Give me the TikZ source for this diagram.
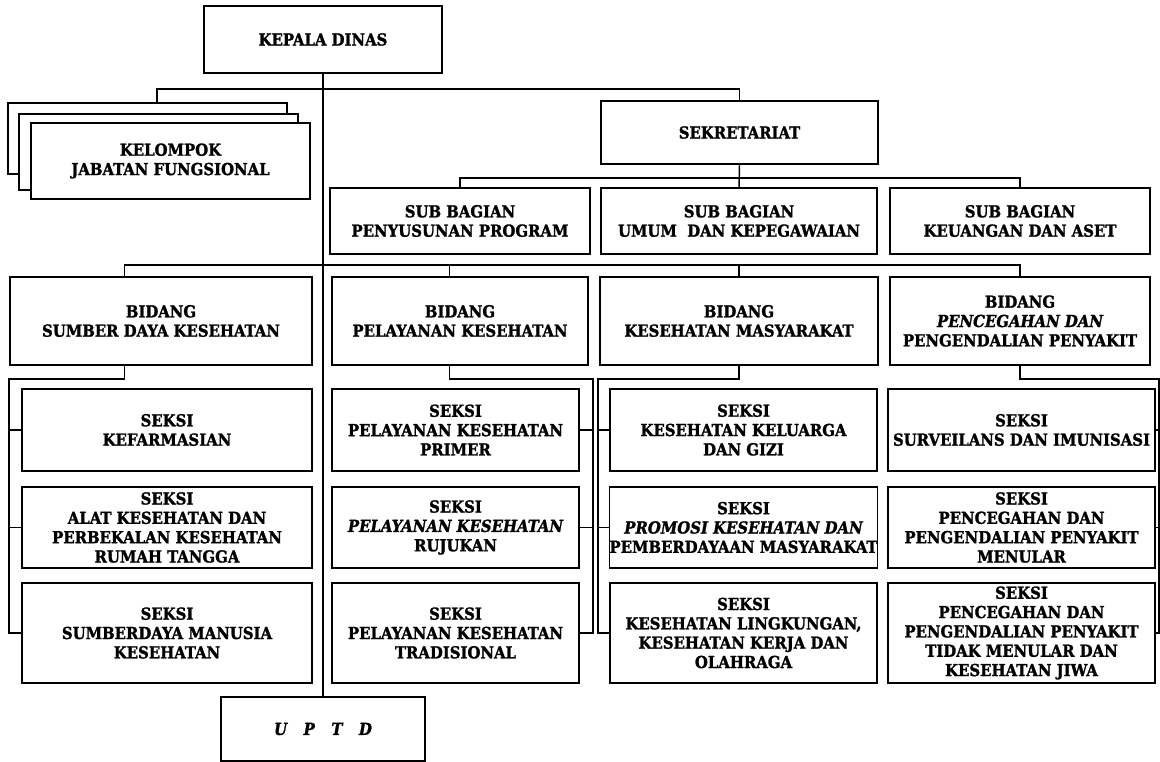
\documentclass[tikz,border=0pt]{standalone}
\usepackage{fontspec}
\setmainfont{DejaVu Serif Condensed}[BoldFeatures={FakeBold=1.5},BoldItalicFeatures={FakeBold=1.5}]
\usepackage{tikz}
\usetikzlibrary{calc}
\usetikzlibrary{positioning}

\begin{document}
\begin{tikzpicture}[x=0.75pt,y=-0.75pt,
    box/.style={draw,line width=1.2pt,fill=white,align=center,inner sep=0pt,
      font=\bfseries\fontsize{12.4}{14.5}\selectfont},
    boxsize/.style 2 args={minimum width=#1*0.75pt,minimum height=#2*0.75pt},
    link/.style={line width=1.1pt}]
  \useasboundingbox (0,0) rectangle (1160,762);

  \node[box,boxsize={238}{67}] (kd) at (323,39.5) {KEPALA DINAS};
  \node[box,boxsize={279}{71}] (kjf1) at (147.5,138.5) {};
  \node[box,boxsize={279}{76}] (kjf2) at (158.5,152) {};
  \node[box,boxsize={279}{76}] (kjf3) at (170.5,161) {KELOMPOK\\JABATAN FUNGSIONAL};
  \node[box,boxsize={277}{63}] (sek) at (739.5,132.5) {SEKRETARIAT};

  \node[box,boxsize={260}{66}] (sb1) at (460,221) {SUB BAGIAN\\PENYUSUNAN PROGRAM};
  \node[box,boxsize={276}{66}] (sb2) at (739,221) {SUB BAGIAN\\UMUM\ \ DAN KEPEGAWAIAN};
  \node[box,boxsize={260}{66}] (sb3) at (1020,221) {SUB BAGIAN\\KEUANGAN DAN ASET};

  \node[box,boxsize={302}{88}] (bd1) at (161,321) {BIDANG\\SUMBER DAYA KESEHATAN};
  \node[box,boxsize={256}{88}] (bd2) at (460,321) {BIDANG\\PELAYANAN KESEHATAN};
  \node[box,boxsize={278}{88}] (bd3) at (739,321) {BIDANG\\KESEHATAN MASYARAKAT};
  \node[box,boxsize={260}{88}] (bd4) at (1020,321) {BIDANG\\{\itshape PENCEGAHAN DAN}\\PENGENDALIAN PENYAKIT};

  \node[box,boxsize={290}{82}] (s11) at (167,430) {SEKSI\\KEFARMASIAN};
  \node[box,boxsize={290}{81}] (s12) at (167,527.5) {SEKSI\\ALAT KESEHATAN DAN\\PERBEKALAN KESEHATAN\\RUMAH TANGGA};
  \node[box,boxsize={290}{100}] (s13) at (167,633) {SEKSI\\SUMBERDAYA MANUSIA\\KESEHATAN};

  \node[box,boxsize={247}{82}] (s21) at (455.5,430) {SEKSI\\PELAYANAN KESEHATAN\\PRIMER};
  \node[box,boxsize={247}{81}] (s22) at (455.5,527.5) {SEKSI\\{\itshape PELAYANAN KESEHATAN}\\RUJUKAN};
  \node[box,boxsize={247}{100}] (s23) at (455.5,633) {SEKSI\\PELAYANAN KESEHATAN\\TRADISIONAL};

  \node[box,boxsize={267}{82}] (s31) at (743.5,430) {SEKSI\\KESEHATAN KELUARGA\\DAN GIZI};
  \node[box,boxsize={267}{81}] (s32) at (743.5,527.5) {SEKSI\\{\itshape PROMOSI KESEHATAN DAN}\\PEMBERDAYAAN MASYARAKAT};
  \node[box,boxsize={267}{100}] (s33) at (743.5,633) {SEKSI\\KESEHATAN LINGKUNGAN,\\KESEHATAN KERJA DAN\\OLAHRAGA};

  \node[box,boxsize={267}{82}] (s41) at (1021.5,430) {SEKSI\\SURVEILANS DAN IMUNISASI};
  \node[box,boxsize={267}{81}] (s42) at (1021.5,527.5) {SEKSI\\PENCEGAHAN DAN\\PENGENDALIAN PENYAKIT\\MENULAR};
  \node[box,boxsize={267}{100}] (s43) at (1021.5,633) {SEKSI\\PENCEGAHAN DAN\\PENGENDALIAN PENYAKIT\\TIDAK MENULAR DAN\\KESEHATAN JIWA};

  \node[box,boxsize={204}{64}] (uptd) at (323,729) {\itshape U\quad P\quad T\quad D};

  \draw[link] (kd.south) -- (uptd.north);
  \draw[link] ([xshift=7pt]kjf1.north) |- ($(kd.south)+(0,15)$) -| (sek.north);
  \draw[link] (sb1.north) |- ($(sek.south)+(0,13)$) -| (sb3.north);
  \draw[link] (sek.south) -- (sb2.north);

  \coordinate (bus) at (323,265);
  \draw[link] ($(bd1.north west)!.38!(bd1.north east)$) |- (bus) -| (bd4.north);
  \draw[link] ($(bd2.north west)!.46!(bd2.north east)$) |- (bus);
  \draw[link] (bd3.north) |- (bus);

  \coordinate (br1) at ($(s13.west)+(-12,0)$);
  \coordinate (br2) at ($(s23.east)+(13,0)$);
  \coordinate (br3) at ($(s33.west)+(-11,0)$);
  \coordinate (br4) at ($(s43.east)+(3,0)$);
  \draw[link] ($(bd1.south west)!.38!(bd1.south east)$) -- ++(0,13) -| (br1) -- (s13.west);
  \draw[link] ($(bd2.south west)!.46!(bd2.south east)$) -- ++(0,13) -| (br2) -- (s23.east);
  \draw[link] (bd3.south) -- ++(0,13) -| (br3) -- (s33.west);
  \draw[link] (bd4.south) -- ++(0,13) -| (br4) -- (s43.east);
  \foreach \c/\a in {1/west,2/east,3/west,4/east}
    \foreach \r in {1,2}
      \draw[link] (s\c\r.\a) -- (s\c\r.\a -| br\c);
\end{tikzpicture}
\end{document}
